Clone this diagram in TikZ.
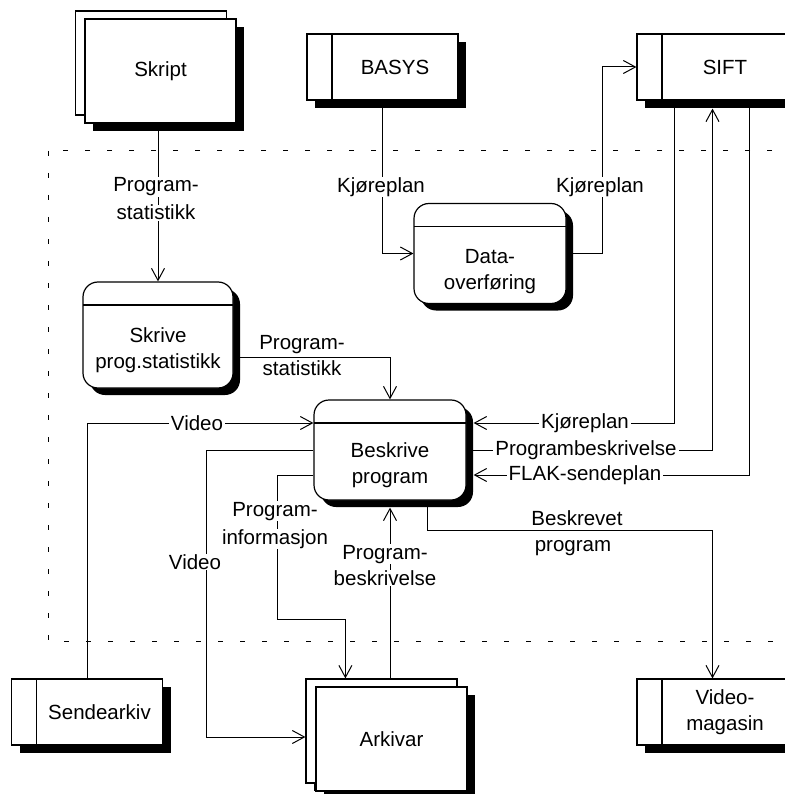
\documentclass[tikz,border=0pt]{standalone}
\usepackage{fontspec}
\setmainfont{Liberation Sans}
\usetikzlibrary{arrows.meta,shadows}
\pgfdeclarelayer{back}
\pgfsetlayers{back,main}
\begin{document}
\begin{tikzpicture}[x=1pt,y=-1pt,
  font=\fontsize{20.5}{26}\selectfont,
  every node/.style={inner sep=0pt},
  boxline/.style={draw=black,line width=1.2pt,fill=white},
  shade8/.style={drop shadow={shadow xshift=8pt,shadow yshift=-8pt,fill=black,opacity=1}},
  shade7/.style={drop shadow={shadow xshift=7pt,shadow yshift=-7pt,fill=black,opacity=1}},
  sheet/.style={boxline,rectangle,minimum width=151pt,minimum height=104pt,shade8},
  store/.style={boxline,rectangle,minimum width=151pt,minimum height=66pt,shade8,
    path picture={\draw[line width=1.2pt]
      ([xshift=25pt]path picture bounding box.north west) --
      ([xshift=25pt]path picture bounding box.south west);}},
  process/.style={boxline,rounded corners=15pt,minimum width=152pt,minimum height=100pt,shade7,
    path picture={\draw[line width=1.2pt]
      ([yshift=-23pt]path picture bounding box.north west) --
      ([yshift=-23pt]path picture bounding box.north east);}},
  txt/.style={align=center},
  lbl/.style={fill=white,inner xsep=2pt,inner ysep=0.5pt},
  lblb/.style={lbl,anchor=base},
  flow/.style={line width=1pt,-{Straight Barb[length=12pt,width=13pt]}},
  frame/.style={line width=1pt,dash pattern=on 5pt off 17pt}]

\useasboundingbox (0,0) rectangle (784,794);

% external entities, data stores and processes
\node[sheet] (skriptB) at (151,63) {};
\node[sheet] (skript) at (160.5,71) {Skript};
\node[store] (basys) at (382.5,67) {};
\node (basysT) at ([xshift=12.5pt]basys.center) {BASYS};
\node[store] (sift) at (712.5,67) {};
\node (siftT) at ([xshift=12.5pt]sift.center) {SIFT};
\node[process] (data) at (490,253.5) {};
\node[txt] (dataT) at ([yshift=-18pt]data.center) {Data-\\overføring};
\node[process,minimum width=150pt,minimum height=106pt] (skrive) at (158,335) {};
\node[txt] (skriveT) at ([yshift=-15pt]skrive.center) {Skrive\\prog.statistikk};
\node[process] (bp) at (390,450) {};
\node[txt] (bpT) at ([yshift=-15pt]bp.center) {Beskrive\\program};
\node[store] (send) at (87,712) {};
\node (sendT) at ([xshift=12.5pt]send.center) {Sendearkiv};
\node[sheet] (arkB) at (381.5,731) {};
\node[sheet] (ark) at (391.5,739) {Arkivar};
\node[store] (vmag) at (712.5,712) {};
\node[txt] (vmagT) at ([xshift=12.5pt]vmag.center) {Video-\\magasin};

% system boundary and data flows
\begin{pgfonlayer}{back}
\fill[white] (0,0) rectangle (784,794);
\draw[frame] (48,151) rectangle (800,641);
\draw[flow] (skrive.north |- skript.south) -- (skrive.north);
\draw[flow] (basys.south) |- (data.west);
\draw[flow] (data.east) -- ++(36,0) |- (sift.west);
\draw[flow] ([xshift=38pt]sift.south west) |- ([xshift=7pt,yshift=27pt]bp.east);
\draw[flow] (bp.east) -| ([yshift=-8pt]sift.south);
\draw[flow] ([xshift=-39pt]sift.south east) |- ([xshift=7pt,yshift=-25pt]bp.east);
\draw[flow] ([yshift=-22pt]skrive.east) -| (bp.north);
\draw[flow] (send.north) |- ([yshift=27pt]bp.west);
\draw[flow] (bp.west) -- ++(-107,0) |- ([yshift=-6pt]arkB.west);
\draw[flow] ([yshift=-25pt]bp.west) -- ++(-36,0) -- ++(0,144) -| ([xshift=40pt]arkB.north west);
\draw[flow] (bp.south |- arkB.north) -- ([yshift=-7pt]bp.south);
\draw[flow] ([xshift=37pt]bp.south) -- ++(0,30) -| (vmag.north);
\end{pgfonlayer}

% flow labels, each text line on its own white patch
\node[lblb] (l1a) at (156,192) {Program-};
\node[lblb] (l1b) at (156,220) {statistikk};
\node[lbl] (l2) at (381,187) {Kjøreplan};
\node[lbl] (l3) at (600,187) {Kjøreplan};
\node[lblb] (l4a) at (302,349) {Program-};
\node[lblb] (l4b) at (302,375) {statistikk};
\node[lbl] (l5) at (197,423) {Video};
\node[lbl] (l6) at (585,423) {Kjøreplan};
\node[lbl] (l7) at (586,450) {Programbeskrivelse};
\node[lbl] (l8) at (585,475) {FLAK-sendeplan};
\node[lblb] (l9a) at (275,516) {Program-};
\node[lblb] (l9b) at (275,544) {informasjon};
\node[lbl] (l10) at (195,562) {Video};
\node[lblb] (l11a) at (385,559) {Program-};
\node[lblb] (l11b) at (385,585) {beskrivelse};
\node[lblb] (l12a) at (577,525) {Beskrevet};
\node[lblb] (l12b) at (573,551) {program};
\end{tikzpicture}
\end{document}
